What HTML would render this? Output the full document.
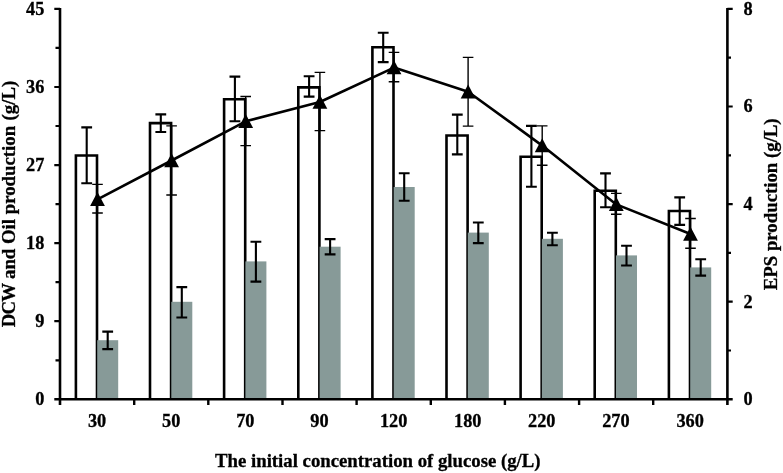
<!DOCTYPE html>
<html><head><meta charset="utf-8"><title>Chart</title>
<style>html,body{margin:0;padding:0;background:#fff}svg{display:block;will-change:transform}text{font-family:"Liberation Serif",serif;font-weight:bold;fill:#000}</style></head><body>
<svg width="783" height="473" viewBox="0 0 783 473">
<rect width="783" height="473" fill="#fff"/>
<path d="M75.9 399.3V155.5H97.0V399.3" fill="#fff" stroke="#000" stroke-width="2.6" stroke-linejoin="miter"/>
<path d="M150.0 399.3V123.1H171.1V399.3" fill="#fff" stroke="#000" stroke-width="2.6" stroke-linejoin="miter"/>
<path d="M224.1 399.3V99.3H245.2V399.3" fill="#fff" stroke="#000" stroke-width="2.6" stroke-linejoin="miter"/>
<path d="M298.3 399.3V87.4H319.4V399.3" fill="#fff" stroke="#000" stroke-width="2.6" stroke-linejoin="miter"/>
<path d="M372.4 399.3V47.3H393.5V399.3" fill="#fff" stroke="#000" stroke-width="2.6" stroke-linejoin="miter"/>
<path d="M446.5 399.3V135.5H467.6V399.3" fill="#fff" stroke="#000" stroke-width="2.6" stroke-linejoin="miter"/>
<path d="M520.6 399.3V156.8H541.7V399.3" fill="#fff" stroke="#000" stroke-width="2.6" stroke-linejoin="miter"/>
<path d="M594.7 399.3V190.8H615.8V399.3" fill="#fff" stroke="#000" stroke-width="2.6" stroke-linejoin="miter"/>
<path d="M668.9 399.3V211.0H690.0V399.3" fill="#fff" stroke="#000" stroke-width="2.6" stroke-linejoin="miter"/>
<rect x="97.2" y="340.2" width="21.0" height="59.1" fill="#879a98"/>
<rect x="171.3" y="301.8" width="21.0" height="97.5" fill="#879a98"/>
<rect x="245.4" y="261.4" width="21.0" height="137.9" fill="#879a98"/>
<rect x="319.6" y="246.7" width="21.0" height="152.6" fill="#879a98"/>
<rect x="393.7" y="187.0" width="21.0" height="212.3" fill="#879a98"/>
<rect x="467.8" y="232.6" width="21.0" height="166.7" fill="#879a98"/>
<rect x="541.9" y="238.8" width="21.0" height="160.5" fill="#879a98"/>
<rect x="616.0" y="255.4" width="21.0" height="143.9" fill="#879a98"/>
<rect x="690.2" y="267.4" width="21.0" height="131.9" fill="#879a98"/>
<path d="M86.7 127.4V183.3M81.3 127.4H92.1M81.3 183.3H92.1" fill="none" stroke="#000" stroke-width="2.1"/>
<path d="M160.8 114.4V132.0M155.4 114.4H166.2M155.4 132.0H166.2" fill="none" stroke="#000" stroke-width="2.1"/>
<path d="M234.9 76.6V121.3M229.5 76.6H240.3M229.5 121.3H240.3" fill="none" stroke="#000" stroke-width="2.1"/>
<path d="M309.1 76.2V96.6M303.7 76.2H314.5M303.7 96.6H314.5" fill="none" stroke="#000" stroke-width="2.1"/>
<path d="M383.2 32.8V62.1M377.8 32.8H388.6M377.8 62.1H388.6" fill="none" stroke="#000" stroke-width="2.1"/>
<path d="M457.3 114.6V154.4M451.9 114.6H462.7M451.9 154.4H462.7" fill="none" stroke="#000" stroke-width="2.1"/>
<path d="M531.4 125.9V186.8M526.0 125.9H536.8M526.0 186.8H536.8" fill="none" stroke="#000" stroke-width="2.1"/>
<path d="M605.5 173.4V207.2M600.1 173.4H610.9M600.1 207.2H610.9" fill="none" stroke="#000" stroke-width="2.1"/>
<path d="M679.7 197.4V224.9M674.3 197.4H685.1M674.3 224.9H685.1" fill="none" stroke="#000" stroke-width="2.1"/>
<path d="M107.7 331.6V349.1M102.3 331.6H113.1M102.3 349.1H113.1" fill="none" stroke="#000" stroke-width="2.1"/>
<path d="M181.8 287.1V317.5M176.4 287.1H187.2M176.4 317.5H187.2" fill="none" stroke="#000" stroke-width="2.1"/>
<path d="M255.9 241.8V281.6M250.5 241.8H261.3M250.5 281.6H261.3" fill="none" stroke="#000" stroke-width="2.1"/>
<path d="M330.1 239.1V254.4M324.7 239.1H335.5M324.7 254.4H335.5" fill="none" stroke="#000" stroke-width="2.1"/>
<path d="M404.2 173.2V200.8M398.8 173.2H409.6M398.8 200.8H409.6" fill="none" stroke="#000" stroke-width="2.1"/>
<path d="M478.3 222.5V243.1M472.9 222.5H483.7M472.9 243.1H483.7" fill="none" stroke="#000" stroke-width="2.1"/>
<path d="M552.4 232.7V245.3M547.0 232.7H557.8M547.0 245.3H557.8" fill="none" stroke="#000" stroke-width="2.1"/>
<path d="M626.5 245.8V265.5M621.1 245.8H631.9M621.1 265.5H631.9" fill="none" stroke="#000" stroke-width="2.1"/>
<path d="M700.7 259.3V275.6M695.3 259.3H706.1M695.3 275.6H706.1" fill="none" stroke="#000" stroke-width="2.1"/>
<path d="M97.5 184.4V213.0M92.2 184.4H102.8M92.2 213.0H102.8" fill="none" stroke="#000" stroke-width="1.4"/>
<path d="M171.6 125.9V195.0M166.3 125.9H176.9M166.3 195.0H176.9" fill="none" stroke="#000" stroke-width="1.4"/>
<path d="M245.7 96.5V145.6M240.4 96.5H251.0M240.4 145.6H251.0" fill="none" stroke="#000" stroke-width="1.4"/>
<path d="M319.9 72.4V130.6M314.6 72.4H325.2M314.6 130.6H325.2" fill="none" stroke="#000" stroke-width="1.4"/>
<path d="M394.0 52.4V81.8M388.7 52.4H399.3M388.7 81.8H399.3" fill="none" stroke="#000" stroke-width="1.4"/>
<path d="M468.1 57.4V126.1M462.8 57.4H473.4M462.8 126.1H473.4" fill="none" stroke="#000" stroke-width="1.4"/>
<path d="M542.2 125.9V165.2M536.9 125.9H547.5M536.9 165.2H547.5" fill="none" stroke="#000" stroke-width="1.4"/>
<path d="M616.3 193.4V214.2M611.0 193.4H621.6M611.0 214.2H621.6" fill="none" stroke="#000" stroke-width="1.4"/>
<path d="M690.5 218.5V248.3M685.2 218.5H695.8M685.2 248.3H695.8" fill="none" stroke="#000" stroke-width="1.4"/>
<path d="M60.0 7.9V405.1M727.4 7.9V405.1" stroke="#000" stroke-width="2.6" fill="none"/>
<path d="M54.3 399.3H732.6999999999999" stroke="#000" stroke-width="2.6" fill="none"/>
<path d="M134.2 399.3V405.1M208.3 399.3V405.1M282.5 399.3V405.1M356.6 399.3V405.1M430.8 399.3V405.1M504.9 399.3V405.1M579.1 399.3V405.1M653.2 399.3V405.1" stroke="#000" stroke-width="2.4" fill="none"/>
<path d="M55.5 360.3H60.0M54.3 321.2H60.0M55.5 282.2H60.0M54.3 243.1H60.0M55.5 204.1H60.0M54.3 165.1H60.0M55.5 126.0H60.0M54.3 87.0H60.0M55.5 47.9H60.0M54.3 8.9H60.0M727.4 350.5H731.0M727.4 301.7H732.6999999999999M727.4 252.9H731.0M727.4 204.1H732.6999999999999M727.4 155.3H731.0M727.4 106.5H732.6999999999999M727.4 57.7H731.0M727.4 8.9H732.6999999999999" stroke="#000" stroke-width="2.2" fill="none"/>
<polyline points="97.5,199.3 171.6,160.5 245.7,121.3 319.9,102.0 394.0,67.6 468.1,91.7 542.2,145.6 616.3,204.4 690.5,234.0" fill="none" stroke="#000" stroke-width="2.6" stroke-linejoin="round"/>
<path d="M97.5 192.0L104.9 206.0H90.1Z" fill="#000"/>
<path d="M171.6 153.2L179.0 167.2H164.2Z" fill="#000"/>
<path d="M245.7 114.0L253.1 128.0H238.3Z" fill="#000"/>
<path d="M319.9 94.7L327.3 108.7H312.5Z" fill="#000"/>
<path d="M394.0 60.3L401.4 74.3H386.6Z" fill="#000"/>
<path d="M468.1 84.4L475.5 98.4H460.7Z" fill="#000"/>
<path d="M542.2 138.3L549.6 152.3H534.8Z" fill="#000"/>
<path d="M616.3 197.1L623.7 211.1H608.9Z" fill="#000"/>
<path d="M690.5 226.7L697.9 240.7H683.1Z" fill="#000"/>
<text x="44.4" y="405.2" font-size="18.3" text-anchor="end" stroke="#000" stroke-width="0.3">0</text>
<text x="44.4" y="327.1" font-size="18.3" text-anchor="end" stroke="#000" stroke-width="0.3">9</text>
<text x="44.4" y="249.0" font-size="18.3" text-anchor="end" stroke="#000" stroke-width="0.3">18</text>
<text x="44.4" y="171.0" font-size="18.3" text-anchor="end" stroke="#000" stroke-width="0.3">27</text>
<text x="44.4" y="92.9" font-size="18.3" text-anchor="end" stroke="#000" stroke-width="0.3">36</text>
<text x="44.4" y="14.8" font-size="18.3" text-anchor="end" stroke="#000" stroke-width="0.3">45</text>
<text x="743.4" y="405.2" font-size="18.3" text-anchor="start" stroke="#000" stroke-width="0.3">0</text>
<text x="743.4" y="307.6" font-size="18.3" text-anchor="start" stroke="#000" stroke-width="0.3">2</text>
<text x="743.4" y="210.0" font-size="18.3" text-anchor="start" stroke="#000" stroke-width="0.3">4</text>
<text x="743.4" y="112.4" font-size="18.3" text-anchor="start" stroke="#000" stroke-width="0.3">6</text>
<text x="743.4" y="14.8" font-size="18.3" text-anchor="start" stroke="#000" stroke-width="0.3">8</text>
<text x="97.1" y="426.8" font-size="18.3" text-anchor="middle" stroke="#000" stroke-width="0.3">30</text>
<text x="171.2" y="426.8" font-size="18.3" text-anchor="middle" stroke="#000" stroke-width="0.3">50</text>
<text x="245.3" y="426.8" font-size="18.3" text-anchor="middle" stroke="#000" stroke-width="0.3">70</text>
<text x="319.5" y="426.8" font-size="18.3" text-anchor="middle" stroke="#000" stroke-width="0.3">90</text>
<text x="393.6" y="426.8" font-size="18.3" text-anchor="middle" stroke="#000" stroke-width="0.3">120</text>
<text x="467.7" y="426.8" font-size="18.3" text-anchor="middle" stroke="#000" stroke-width="0.3">180</text>
<text x="541.8" y="426.8" font-size="18.3" text-anchor="middle" stroke="#000" stroke-width="0.3">220</text>
<text x="615.9" y="426.8" font-size="18.3" text-anchor="middle" stroke="#000" stroke-width="0.3">270</text>
<text x="690.1" y="426.8" font-size="18.3" text-anchor="middle" stroke="#000" stroke-width="0.3">360</text>
<text id="xt" x="377.8" y="467" font-size="18.75" text-anchor="middle" stroke="#000" stroke-width="0.3">The initial concentration of glucose (g/L)</text>
<text id="yl" transform="translate(15.1 327.2) rotate(-90)" font-size="18.8" text-anchor="start" stroke="#000" stroke-width="0.3"><tspan letter-spacing="-0.8">DCW</tspan> and Oil production <tspan dx="0.8">(g/L)</tspan></text>
<text id="yr" transform="translate(777.1 204.3) rotate(-90)" font-size="18.8" text-anchor="middle" stroke="#000" stroke-width="0.3">EPS production (g/L)</text>
</svg></body></html>
